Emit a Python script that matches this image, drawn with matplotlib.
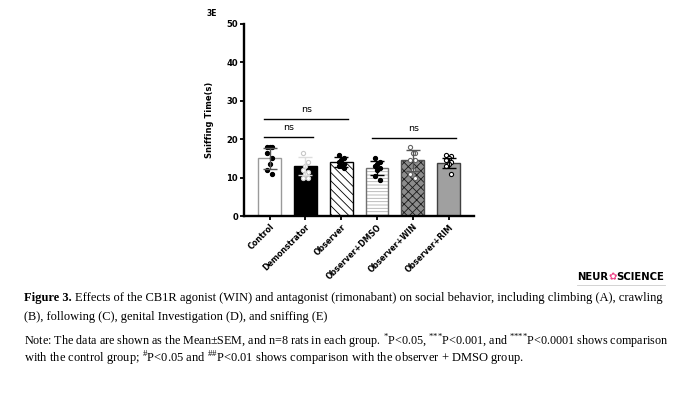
import numpy as np
import matplotlib
matplotlib.use("Agg")
import matplotlib.pyplot as plt

plt.rcParams["hatch.linewidth"] = 0.6
plt.rcParams["mathtext.fontset"] = "custom"
plt.rcParams["mathtext.rm"] = "Liberation Serif"

# data
groups = ["Control", "Demonstrator", "Observer", "Observer+DMSO", "Observer+WIN", "Observer+RIM"]
means = [15.0, 13.0, 14.0, 12.5, 14.5, 13.8]
sems = [2.8, 2.3, 1.3, 1.7, 2.8, 1.3]
points = [
    [18, 18, 18, 16.5, 15, 13.5, 12, 11],
    [16.5, 14, 13, 12, 11.5, 11, 10, 10],
    [16, 15, 14.5, 14, 13.5, 13, 13, 12.5],
    [15, 14, 13.5, 13, 12.5, 12, 10.5, 9.5],
    [18, 16.5, 16.5, 14.5, 14.5, 12, 11, 10],
    [16, 15.5, 15, 14.5, 14, 13.5, 13, 11],
]
ns_pairs = [(0, 1, 20.7), (0, 2, 25.3), (3, 5, 20.4)]

fig = plt.figure(figsize=(6.9, 4.18), dpi=100)
ax = fig.add_axes([0.354, 0.483, 0.333, 0.46])

x = np.arange(len(groups))
faces = ["white", "black", "white", "white", "#8c8c8c", "#a0a0a0"]
edges = ["#9a9a9a", "black", "black", "#707070", "#505050", "#404040"]
hatches = [None, None, "\\\\\\\\", "-----", "xxxx", None]
hcolors = ["black", "black", "black", "#b0b0b0", "#1a1a1a", "black"]
for i in range(len(groups)):
    b = ax.bar(x[i], means[i], width=0.64, color=faces[i], edgecolor=edges[i],
               linewidth=1.0, hatch=hatches[i], zorder=2)
    b[0]._hatch_color = matplotlib.colors.to_rgba(hcolors[i])

# scatter points
mk_face = ["black", "white", "black", "black", "white", "white"]
mk_edge = ["black", "#c8c8c8", "black", "black", "#666666", "black"]
offs = [-0.07, 0.07, 0.0, -0.07, 0.07, 0.0, -0.07, 0.07]
for i, pts in enumerate(points):
    px = x[i] + np.array(offs[:len(pts)])
    ax.scatter(px, pts, s=9, facecolor=mk_face[i], edgecolor=mk_edge[i],
               linewidth=0.8, zorder=4)

ecol = ["#555555", "#dddddd", "black", "black", "#555555", "black"]
for i in range(len(groups)):
    ax.errorbar(x[i], means[i], yerr=sems[i], fmt="none", ecolor=ecol[i],
                elinewidth=1.0, capsize=5, capthick=1.0, zorder=5)

# ns brackets
for a, b, y in ns_pairs:
    ax.plot([a - 0.15, b + 0.2], [y, y], color="black", lw=1.0, clip_on=False)
    ax.text((a + b) / 2 + 0.02, y + 1.2, "ns", ha="center", va="bottom", fontsize=6.8)

ax.set_xlim(-0.71, 5.71)
ax.set_ylim(0, 50)
ax.set_yticks([0, 10, 20, 30, 40, 50])
ax.set_xticks(x)
ax.set_xticklabels(groups, rotation=45, ha="right", rotation_mode="anchor",
                   fontsize=5.7, fontweight="bold")
for lab in ax.get_yticklabels():
    lab.set_fontsize(6)
    lab.set_fontweight("bold")
ax.tick_params(axis="both", width=1.3, length=3, pad=1.5)
ax.spines["top"].set_visible(False)
ax.spines["right"].set_visible(False)
ax.spines["left"].set_linewidth(1.7)
ax.spines["bottom"].set_linewidth(1.7)
ax.set_ylabel("Sniffing Time(s)", fontsize=6, fontweight="bold", labelpad=9)

fig.text(0.3, 0.967, "3E", fontsize=5.5, fontweight="bold", ha="left", va="center")

renderer = fig.canvas.get_renderer()


def put_row(pieces, x0, y0, target=None):
    # place text pieces one after another, optionally scaled to a pixel width
    arts = []
    xp = x0
    for s, kw in pieces:
        t = fig.text(xp / 690, y0, s, va="center", **kw)
        xp = t.get_window_extent(renderer).x1
        arts.append(t)
    if target is not None:
        k = target / (xp - x0)
        xp = x0
        for t in arts:
            t.set_fontsize(t.get_fontsize() * k)
            t.set_x(xp / 690)
            xp = t.get_window_extent(renderer).x1
    return arts


# journal logo
logo = dict(fontsize=7.5, fontweight="bold", family="DejaVu Sans")
put_row([("NEUR", logo), ("\u273f", dict(fontsize=7.5, color="#ee4488")),
         ("SCIENCE", logo)], 577, 0.337, target=88)
fig.add_artist(plt.Line2D([577 / 690, 665 / 690], [0.318, 0.318], color="#cccccc", lw=0.6))

ser = dict(fontsize=9.5, family="Liberation Serif")
serb = dict(fontsize=9.5, family="Liberation Serif", fontweight="bold")
put_row([("Figure 3. ", serb),
         ("Effects of the CB1R agonist (WIN) and antagonist (rimonabant) on social behavior, including climbing (A), crawling", ser)],
        24, 0.287, target=645)
put_row([("(B), following (C), genital Investigation (D), and sniffing (E)", ser)], 24, 0.241, target=305)
put_row([("Note: The data are shown as the Mean\u00b1SEM, and n=8 rats in each group. $^{{*}}$P<0.05, $^{{*}{*}{*}}$P<0.001, and $^{{*}{*}{*}{*}}$P<0.0001 shows comparison", ser)],
        24, 0.182, target=645)
put_row([("with the control group; $^{\\#}$P<0.05 and $^{\\#\\#}$P<0.01 shows comparison with the observer + DMSO group.", ser)],
        24, 0.141, target=504)

fig.savefig("out.png", dpi=100)
